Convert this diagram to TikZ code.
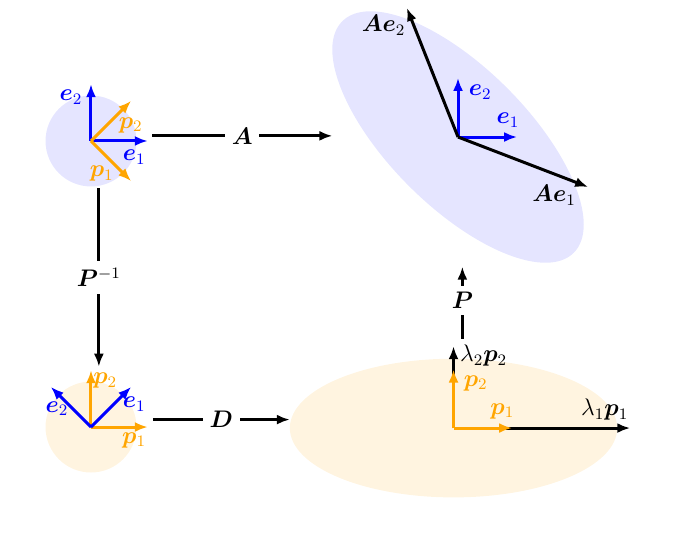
\documentclass[tikz,border=0pt]{standalone}
\usepackage{bm}
\usetikzlibrary{arrows.meta}
\definecolor{vecorange}{HTML}{FFA500}

\begin{document}
\begin{tikzpicture}[
		font=\large,
		vec/.style={line width=1.5pt, -{Latex[length=6.5pt, width=5pt]}},
		conn/.style={line width=1.5pt, -{Latex[length=6.5pt, width=5pt]}},
		maplabel/.style={fill=white},
	]
	\path (0,0) rectangle (12,9.432);

	% standard basis and unit disc
	\begin{scope}[shift={(1.601,6.951)}, local bounding box=tl]
		\fill[blue!10] (0,0) circle (0.8);
		\draw[vec, blue] (0,0) -- (1,0);
		\draw[vec, blue] (0,0) -- (0,1);
		\draw[vec, vecorange] (0,0) -- (0.707,0.707);
		\draw[vec, vecorange] (0,0) -- (0.707,-0.707);
		\node[text=blue] (tle1) at (0.76,-0.28) {$\bm e_1$};
		\node[text=blue] (tle2) at (-0.35,0.77) {$\bm e_2$};
		\node[text=vecorange] (tlp1) at (0.19,-0.58) {$\bm p_1$};
		\node[text=vecorange] (tlp2) at (0.70,0.28) {$\bm p_2$};
	\end{scope}

	% image of the disc under A
	\begin{scope}[shift={(8.059,7.021)}, local bounding box=tr]
		\fill[blue!10, rotate=-45, overlay] (0,0) ellipse (2.88 and 1.22);
		\path (-2.21,-2.21) rectangle (2.21,2.21);
		\draw[vec, blue] (0,0) -- (1.04,0);
		\draw[vec, blue] (0,0) -- (0,1.04);
		\draw[vec] (0,0) -- (2.29,-0.88);
		\draw[vec] (0,0) -- (-0.90,2.27);
		\node[text=blue] (tre1) at (0.88,0.30) {$\bm e_1$};
		\node[text=blue] (tre2) at (0.39,0.79) {$\bm e_2$};
		\node (trAe1) at (1.69,-1.02) {$\bm{A}\bm e_1$};
		\node (trAe2) at (-1.31,1.97) {$\bm{A}\bm e_2$};
	\end{scope}

	% eigenbasis and unit disc
	\begin{scope}[shift={(1.601,1.918)}, local bounding box=bl]
		\fill[vecorange!12] (0,0) circle (0.8);
		\draw[vec, vecorange] (0,0) -- (1,0);
		\draw[vec, vecorange] (0,0) -- (0,1);
		\draw[vec, blue] (0,0) -- (0.707,0.707);
		\draw[vec, blue] (0,0) -- (-0.707,0.707);
		\node[text=vecorange] (blp1) at (0.76,-0.23) {$\bm p_1$};
		\node[text=vecorange] (blp2) at (0.25,0.81) {$\bm p_2$};
		\node[text=blue] (ble1) at (0.76,0.40) {$\bm e_1$};
		\node[text=blue] (ble2) at (-0.60,0.32) {$\bm e_2$};
	\end{scope}

	% scaled eigenbasis
	\begin{scope}[shift={(7.980,1.900)}, local bounding box=br]
		\fill[vecorange!12] (0,0) ellipse (2.88 and 1.22);
		\draw[vec] (0,0) -- (3.11,0);
		\draw[vec] (0,0) -- (0,1.44);
		\draw[vec, vecorange] (0,0) -- (1.03,0);
		\draw[vec, vecorange] (0,0) -- (0,1.03);
		\node[text=vecorange] (brp1) at (0.86,0.30) {$\bm p_1$};
		\node[text=vecorange] (brp2) at (0.39,0.79) {$\bm p_2$};
		\node (brl1) at (2.66,0.32) {$\lambda_1\bm p_1$};
		\node (brl2) at (0.53,1.27) {$\lambda_2\bm p_2$};
	\end{scope}

	% maps between the panels
	\draw[conn] (tl.east) -- node[maplabel] (mapA) {$\bm A$} (tl.east -| tr.west);
	\draw[conn] (tl.south) -- node[maplabel] (mapPinv) {$\bm P^{-1}$} (tl.south |- bl.north);
	\draw[conn] (bl.east) -- node[maplabel] (mapD) {$\bm D$} (bl.east -| br.west);
	\draw[conn, shorten >=2pt] (br.north) -- node[maplabel] (mapP) {$\bm P$} (br.north |- tr.south);

\end{tikzpicture}
\end{document}
